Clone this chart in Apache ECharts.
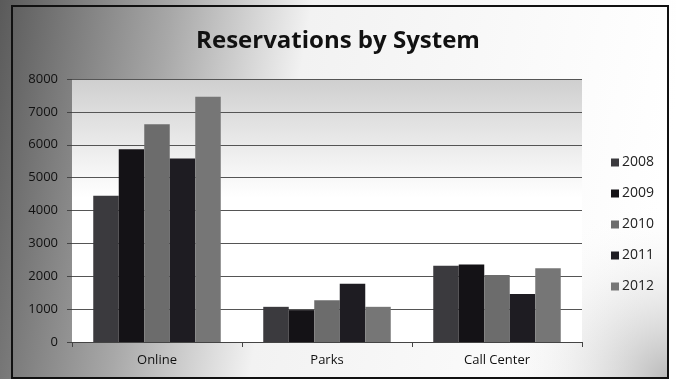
<!DOCTYPE html>
<html>
<head>
<meta charset="utf-8">
<script src="https://cdn.jsdelivr.net/npm/echarts@6/dist/echarts.min.js"></script>
<style>
    html, body { margin: 0; padding: 0; background: #fff; }
    #main { width: 676px; height: 379px; }
</style>
</head>
<body>
<div id="main"></div>
<script>
    var categories = ['Online', 'Parks', 'Call Center'];
    var years = ['2008', '2009', '2010', '2011', '2012'];
    var s2008 = [4450, 1070, 2320];
    var s2009 = [5860, 970, 2360];
    var s2010 = [6620, 1270, 2040];
    var s2011 = [5580, 1770, 1460];
    var s2012 = [7460, 1070, 2240];
    var yTicks = [0, 1000, 2000, 3000, 4000, 5000, 6000, 7000, 8000];

    var values = [s2008, s2009, s2010, s2011, s2012];
    var color = ['#3b3a3e', '#141216', '#6c6c6c', '#1e1c22', '#767676'];

    var myChart = echarts.init(document.getElementById('main'));

    var series = [];
    for (var i = 0; i < years.length; i++) {
        series.push({
            name: years[i],
            type: 'bar',
            data: values[i],
            itemStyle: {color: color[i]},
            barGap: '0%',
            barCategoryGap: '25%'
        });
    }

    var option = {
        backgroundColor: {
            type: 'linear', x: 0, y: 0, x2: 1, y2: 0.3,
            colorStops: [
                {offset: 0, color: '#5a5a5a'},
                {offset: 0.25, color: '#a8a8a8'},
                {offset: 0.45, color: '#f2f2f2'},
                {offset: 1, color: '#ffffff'}
            ]
        },
        textStyle: {fontFamily: 'Open Sans'},
        graphic: [{
            type: 'rect',
            shape: {x: 480, y: 200, width: 188, height: 178},
            style: {
                fill: {
                    type: 'radial', x: 1, y: 1, r: 1,
                    colorStops: [
                        {offset: 0, color: 'rgba(140,140,140,0.6)'},
                        {offset: 1, color: 'rgba(255,255,255,0)'}
                    ]
                }
            },
            silent: true,
            z: -1
        }, {
            type: 'rect',
            shape: {x: 12, y: 6, width: 656, height: 372},
            style: {fill: 'none', stroke: '#111', lineWidth: 2},
            silent: true
        }],
        title: {
            text: 'Reservations by System',
            left: 'center',
            top: 24,
            textStyle: {
                fontFamily: 'Open Sans',
                fontWeight: 'bold',
                fontSize: 24,
                color: '#111'
            }
        },
        legend: {
            orient: 'vertical',
            left: 606,
            top: 148,
            itemGap: 12,
            itemWidth: 8,
            itemHeight: 8,
            icon: 'rect',
            data: years,
            textStyle: {fontSize: 14, color: '#222', padding: [0, 0, 0, -2], lineHeight: 19}
        },
        grid: {
            left: 72,
            right: 94,
            top: 79,
            bottom: 37,
            show: true,
            borderWidth: 0,
            backgroundColor: {
                type: 'linear', x: 0, y: 0, x2: 0, y2: 1,
                colorStops: [
                    {offset: 0, color: '#cfcfcf'},
                    {offset: 0.3, color: '#f0f0f0'},
                    {offset: 0.45, color: '#ffffff'},
                    {offset: 1, color: '#ffffff'}
                ]
            }
        },
        xAxis: {
            type: 'category',
            data: categories,
            axisLine: {lineStyle: {color: '#444'}},
            axisTick: {show: true, length: 5, lineStyle: {color: '#444'}},
            axisLabel: {fontSize: 13, color: '#111', margin: 12}
        },
        yAxis: {
            type: 'value',
            min: yTicks[0],
            max: yTicks[yTicks.length - 1],
            interval: 1000,
            axisLine: {show: false},
            axisTick: {show: true, length: 5, lineStyle: {color: '#444'}},
            axisLabel: {
                fontSize: 13,
                color: '#111',
                margin: 14,
                formatter: function (v) { return String(v); }
            },
            splitLine: {lineStyle: {color: '#555', width: 1}}
        },
        series: series
    };
    myChart.setOption(option);
</script>
</body>
</html>
